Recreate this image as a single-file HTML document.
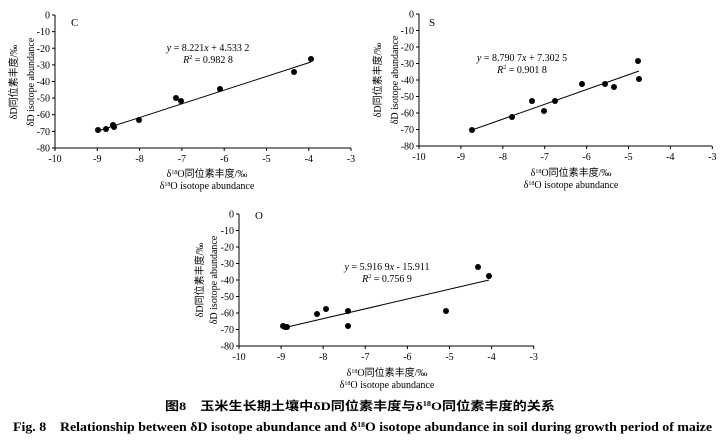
<!DOCTYPE html>
<html><head><meta charset="utf-8"><style>
html,body{margin:0;padding:0;background:#fff;}
svg{display:block;}
text{font-family:"Liberation Serif","Noto Serif CJK SC",serif;fill:#000;}
.t{font-size:10px;}
.c{font-size:10px;font-family:"Liberation Serif","Noto Sans CJK SC",sans-serif;}
</style></head><body>
<svg width="725" height="440" viewBox="0 0 725 440" xmlns="http://www.w3.org/2000/svg">
<!-- Chart C -->
<g stroke="#000" stroke-width="1" fill="none">
<path d="M55,15V148H351"/>
<path d="M52,15H55M52,31.6H55M52,48.3H55M52,64.9H55M52,81.5H55M52,98.1H55M52,114.8H55M52,131.4H55M52,148H55"/>
<path d="M55,148v3M97.3,148v3M139.6,148v3M181.9,148v3M224.2,148v3M266.5,148v3M308.8,148v3M351,148v3"/>
<path d="M98,131L311,62"/>
</g>
<g fill="#000">
<circle cx="98" cy="130" r="3"/><circle cx="106" cy="129" r="3"/><circle cx="113" cy="125" r="3"/><circle cx="114" cy="127" r="3"/><circle cx="139" cy="120" r="3"/><circle cx="176" cy="98" r="3"/><circle cx="181" cy="101" r="3"/><circle cx="220" cy="89" r="3"/><circle cx="294" cy="72" r="3"/><circle cx="311" cy="59" r="3"/>
</g>
<g class="t" text-anchor="end">
<text x="50" y="18.5">0</text><text x="50" y="35">-10</text><text x="50" y="52">-20</text><text x="50" y="68.5">-30</text><text x="50" y="85">-40</text><text x="50" y="101.5">-50</text><text x="50" y="118">-60</text><text x="50" y="135">-70</text><text x="50" y="151.5">-80</text>
</g>
<g class="t" text-anchor="middle">
<text x="55" y="162">-10</text><text x="97.3" y="162">-9</text><text x="139.6" y="162">-8</text><text x="181.9" y="162">-7</text><text x="224.2" y="162">-6</text><text x="266.5" y="162">-5</text><text x="308.8" y="162">-4</text><text x="351" y="162">-3</text>
<text x="208" y="51"><tspan font-style="italic">y</tspan> = 8.221<tspan font-style="italic">x</tspan> + 4.533 2</text>
<text x="208" y="63"><tspan font-style="italic">R</tspan><tspan font-size="6" dy="-4">2</tspan><tspan dy="4"> = 0.982 8</tspan></text>
<text x="207" y="177" class="c">δ<tspan font-size="6" dy="-3">18</tspan><tspan dy="3">O同位素丰度/‰</tspan></text>
<text x="207" y="189">δ<tspan font-size="6" dy="-3">18</tspan><tspan dy="3">O isotope abundance</tspan></text>
<text transform="translate(17,82) rotate(-90)" class="c">δD同位素丰度/‰</text>
<text transform="translate(34,82) rotate(-90)">δD isotope abundance</text>
</g>
<text x="71" y="26" font-size="11" fill="#223">C</text>

<!-- Chart S -->
<g stroke="#000" stroke-width="1" fill="none">
<path d="M419,14V146H712"/>
<path d="M416,14H419M416,30.5H419M416,47H419M416,63.5H419M416,80H419M416,96.5H419M416,113H419M416,129.5H419M416,146H419"/>
<path d="M419,146v3M460.9,146v3M502.8,146v3M544.7,146v3M586.6,146v3M628.5,146v3M670.4,146v3M712.3,146v3"/>
<path d="M472,130L639,71"/>
</g>
<g fill="#000">
<circle cx="472" cy="130" r="3"/><circle cx="512" cy="117" r="3"/><circle cx="532" cy="101" r="3"/><circle cx="544" cy="111" r="3"/><circle cx="555" cy="101" r="3"/><circle cx="582" cy="84" r="3"/><circle cx="605" cy="84" r="3"/><circle cx="614" cy="87" r="3"/><circle cx="638" cy="61" r="3"/><circle cx="639" cy="79" r="3"/>
</g>
<g class="t" text-anchor="end">
<text x="414" y="17.5">0</text><text x="414" y="34">-10</text><text x="414" y="50.5">-20</text><text x="414" y="67">-30</text><text x="414" y="83.5">-40</text><text x="414" y="100">-50</text><text x="414" y="116.5">-60</text><text x="414" y="133">-70</text><text x="414" y="149.5">-80</text>
</g>
<g class="t" text-anchor="middle">
<text x="419" y="160">-10</text><text x="460.9" y="160">-9</text><text x="502.8" y="160">-8</text><text x="544.7" y="160">-7</text><text x="586.6" y="160">-6</text><text x="628.5" y="160">-5</text><text x="670.4" y="160">-4</text><text x="712.3" y="160">-3</text>
<text x="522" y="61"><tspan font-style="italic">y</tspan> = 8.790 7<tspan font-style="italic">x</tspan> + 7.302 5</text>
<text x="522" y="73"><tspan font-style="italic">R</tspan><tspan font-size="6" dy="-4">2</tspan><tspan dy="4"> = 0.901 8</tspan></text>
<text x="571" y="176" class="c">δ<tspan font-size="6" dy="-3">18</tspan><tspan dy="3">O同位素丰度/‰</tspan></text>
<text x="571" y="188">δ<tspan font-size="6" dy="-3">18</tspan><tspan dy="3">O isotope abundance</tspan></text>
<text transform="translate(381,80) rotate(-90)" class="c">δD同位素丰度/‰</text>
<text transform="translate(398,80) rotate(-90)">δD isotope abundance</text>
</g>
<text x="429" y="26" font-size="11" fill="#223">S</text>

<!-- Chart O -->
<g stroke="#000" stroke-width="1" fill="none">
<path d="M239,214V346H534"/>
<path d="M236,214H239M236,230.5H239M236,247H239M236,263.5H239M236,280H239M236,296.5H239M236,313H239M236,329.5H239M236,346H239"/>
<path d="M239,346v3M281.1,346v3M323.2,346v3M365.3,346v3M407.4,346v3M449.5,346v3M491.6,346v3M533.7,346v3"/>
<path d="M283,328L489,280"/>
</g>
<g fill="#000">
<circle cx="283" cy="326" r="3"/><circle cx="285" cy="327" r="3"/><circle cx="287" cy="327" r="3"/><circle cx="317" cy="314" r="3"/><circle cx="326" cy="309" r="3"/><circle cx="348" cy="311" r="3"/><circle cx="348" cy="326" r="3"/><circle cx="446" cy="311" r="3"/><circle cx="478" cy="267" r="3"/><circle cx="489" cy="276" r="3"/>
</g>
<g class="t" text-anchor="end">
<text x="234" y="217.5">0</text><text x="234" y="234">-10</text><text x="234" y="250.5">-20</text><text x="234" y="267">-30</text><text x="234" y="283.5">-40</text><text x="234" y="300">-50</text><text x="234" y="316.5">-60</text><text x="234" y="333">-70</text><text x="234" y="349.5">-80</text>
</g>
<g class="t" text-anchor="middle">
<text x="239" y="360">-10</text><text x="281.1" y="360">-9</text><text x="323.2" y="360">-8</text><text x="365.3" y="360">-7</text><text x="407.4" y="360">-6</text><text x="449.5" y="360">-5</text><text x="491.6" y="360">-4</text><text x="533.7" y="360">-3</text>
<text x="387" y="270"><tspan font-style="italic">y</tspan> = 5.916 9<tspan font-style="italic">x</tspan> - 15.911</text>
<text x="387" y="282"><tspan font-style="italic">R</tspan><tspan font-size="6" dy="-4">2</tspan><tspan dy="4"> = 0.756 9</tspan></text>
<text x="387" y="376" class="c">δ<tspan font-size="6" dy="-3">18</tspan><tspan dy="3">O同位素丰度/‰</tspan></text>
<text x="387" y="388">δ<tspan font-size="6" dy="-3">18</tspan><tspan dy="3">O isotope abundance</tspan></text>
<text transform="translate(203,280) rotate(-90)" class="c">δD同位素丰度/‰</text>
<text transform="translate(217,280) rotate(-90)">δD isotope abundance</text>
</g>
<text x="255" y="219" font-size="11" fill="#223">O</text>

<!-- Captions -->
<text x="165" y="410" font-size="12" font-weight="bold" textLength="390" lengthAdjust="spacingAndGlyphs" style="font-family:'Liberation Serif','Noto Sans CJK SC',sans-serif">图8　玉米生长期土壤中δD同位素丰度与δ<tspan font-size="7" dy="-4">18</tspan><tspan dy="4">O同位素丰度的关系</tspan></text>
<text x="13" y="431" font-size="12.5" font-weight="bold" textLength="699" lengthAdjust="spacingAndGlyphs">Fig. 8　Relationship between δD isotope abundance and δ<tspan font-size="7" dy="-4">18</tspan><tspan dy="4">O isotope abundance in soil during growth period of maize</tspan></text>
</svg>
</body></html>
